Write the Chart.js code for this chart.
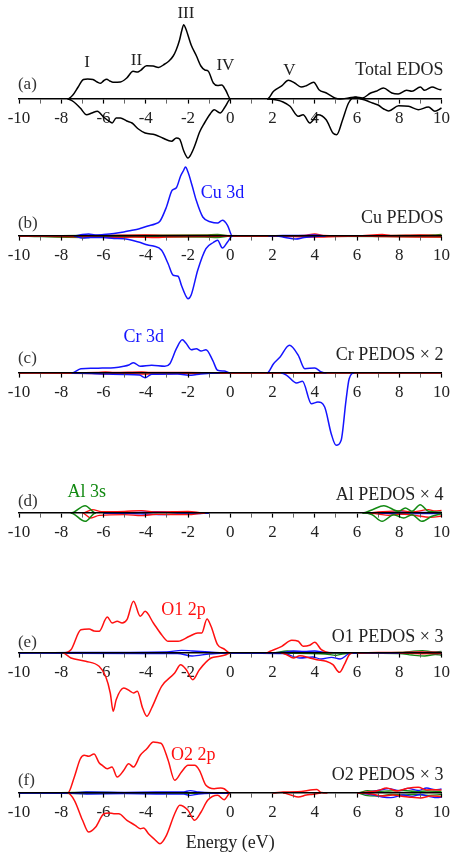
<!DOCTYPE html>
<html>
<head>
<meta charset="utf-8">
<script src="https://cdn.jsdelivr.net/npm/chart.js@4.4.1/dist/chart.umd.min.js"></script>
<style>
  html, body { margin: 0; padding: 0; background: #fff; }
  #wrap { position: relative; width: 455px; height: 857px; }
</style>
</head>
<body>
<div id="wrap"><canvas id="dos"></canvas></div>
<script>
// energies in eV, DOS in arbitrary units; pairs [E, DOS], spin down negative
const panels = ['a', 'b', 'c', 'd', 'e', 'f'];
const tickValues = [-10, -8, -6, -4, -2, 0, 2, 4, 6, 8, 10];
const minorTickValues = [-9, -7, -5, -3, -1, 1, 3, 5, 7, 9];

// (a) total
const totalUp = [[-10,0],[-7.7,0],[-7.45,0.4],[-7.2,1.2],[-6.95,1.95],[-6.75,2.0],[-6.5,1.95],[-6.3,1.7],[-6.14,1.57],[-5.98,1.85],[-5.85,1.97],[-5.7,1.8],[-5.55,1.67],[-5.2,1.7],[-4.9,2.1],[-4.6,2.77],[-4.38,2.7],[-4.25,2.85],[-3.96,3.33],[-3.65,3.3],[-3.4,3.15],[-3.1,3.5],[-2.9,3.8],[-2.7,4.3],[-2.56,4.9],[-2.4,5.9],[-2.3,6.8],[-2.2,7.43],[-2.1,7.0],[-1.85,5.4],[-1.6,4.3],[-1.39,3.3],[-1.2,2.9],[-1.05,2.8],[-0.8,1.6],[-0.6,1.35],[-0.4,1.4],[-0.22,0.9],[0.02,0],[1.75,0],[2.05,0.77],[2.45,1.33],[2.75,1.87],[3.05,1.6],[3.35,1.2],[3.6,1.33],[3.95,1.67],[4.2,0.93],[4.55,0.6],[4.95,0.1],[5.2,0],[5.6,0.1],[5.95,0.2],[6.25,0.1],[6.65,0.6],[6.9,0.77],[7.25,1.1],[7.65,0.6],[7.95,0.5],[8.35,0.87],[8.6,0.77],[9.0,1.2],[9.2,0.87],[9.55,1.2],[9.95,0.93],[10,0.95]];
const totalDown = [[-10,0],[-7.7,0],[-7.4,-0.3],[-7.1,-0.9],[-6.8,-1.57],[-6.55,-1.4],[-6.29,-1.23],[-6.0,-1.8],[-5.75,-2.2],[-5.59,-2.4],[-5.4,-1.9],[-5.2,-1.9],[-4.9,-2.2],[-4.65,-2.4],[-4.35,-3.0],[-4.03,-3.4],[-3.56,-3.57],[-3.2,-3.9],[-2.78,-4.23],[-2.55,-3.9],[-2.4,-4.0],[-2.2,-5.2],[-2.0,-5.9],[-1.85,-5.5],[-1.69,-4.73],[-1.45,-3.3],[-1.22,-2.4],[-0.95,-1.5],[-0.76,-1.07],[-0.48,-1.4],[-0.25,-0.8],[0.02,0],[1.75,0],[2.2,-0.1],[2.5,-0.3],[2.83,-0.73],[3.22,-1.73],[3.45,-1.57],[3.77,-2.4],[4.15,-1.57],[4.54,-2.07],[4.86,-3.4],[5.04,-3.57],[5.32,-2.07],[5.6,-0.4],[5.9,0.17],[6.2,0],[6.5,-0.2],[6.73,-0.4],[7.0,-0.6],[7.27,-1.0],[7.5,-1.2],[7.97,-0.67],[8.44,-0.73],[8.9,-1.07],[9.38,-0.8],[9.69,-1.23],[10,-0.9]];

// (b) Cu
const cuUp = [[-10,0],[-7.4,0],[-7.0,0.15],[-6.7,0.2],[-6.4,0.1],[-6.0,0.15],[-5.5,0.25],[-5.04,0.4],[-4.7,0.55],[-4.34,0.7],[-3.9,1.0],[-3.56,1.2],[-3.33,1.47],[-3.02,2.9],[-2.75,4.57],[-2.55,4.83],[-2.35,6.0],[-2.2,6.6],[-2.12,6.9],[-2.0,6.4],[-1.8,5.0],[-1.61,3.57],[-1.3,1.9],[-0.91,1.4],[-0.6,1.3],[-0.37,1.57],[-0.13,1.07],[0.1,0],[1.8,0],[2.5,0.05],[3.5,0.05],[4.0,0.1],[4.5,0],[10,0]];
const cuDown = [[-10,0],[-7.4,0],[-7.0,-0.2],[-6.6,-0.15],[-6.0,-0.15],[-5.5,-0.25],[-5.04,-0.27],[-4.34,-0.6],[-3.9,-0.9],[-3.64,-1.0],[-3.25,-1.43],[-2.94,-2.77],[-2.7,-3.93],[-2.47,-4.03],[-2.3,-5.0],[-2.1,-6.0],[-2.0,-6.27],[-1.85,-5.9],[-1.54,-3.43],[-1.15,-1.27],[-0.8,-0.65],[-0.6,-0.43],[-0.37,-1.2],[-0.13,-0.6],[0.1,0],[2.2,0],[2.6,-0.15],[3.1,-0.3],[3.5,-0.15],[4.0,-0.05],[4.5,0],[10,0]];
const cuRedUp = [[-10,0],[-6,0.05],[-4,0.1],[-3,0.05],[-1,0.05],[2,0],[3.5,0.05],[4.0,0.2],[4.4,0.05],[6,0],[7.2,0.15],[7.6,0.05],[9,0.1],[10,0.05]];
const cuRedDown = [[-10,0],[-6.5,-0.1],[-5.5,-0.15],[-4.5,-0.1],[-3.5,-0.15],[-3,-0.1],[-1,-0.05],[2,0],[4,-0.1],[6,0],[7.2,-0.05],[9.5,-0.1],[10,-0.1]];
const cuGreenUp = [[-10,0],[-7,0.05],[-1.2,0.1],[-0.6,0.15],[0,0],[6,0],[8,0.05],[9.6,0.1],[10,0.15]];
const cuGreenDown = [[-10,0],[-6.8,-0.15],[-6.3,-0.05],[-1.2,-0.1],[-0.6,-0.15],[0,0],[8,-0.05],[10,-0.1]];

// (c) Cr x2
const crUp = [[-10,0],[-7.5,0],[-7.07,0.43],[-6.5,0.47],[-6.06,0.5],[-5.5,0.53],[-5.04,0.67],[-4.8,0.8],[-4.58,1.03],[-4.26,0.67],[-3.72,0.77],[-3.1,0.67],[-2.86,0.93],[-2.55,2.43],[-2.27,3.33],[-2.1,3.0],[-1.85,2.33],[-1.61,2.43],[-1.38,2.2],[-1.15,2.33],[-0.83,1.27],[-0.6,0.27],[-0.29,0.2],[0,0],[1.74,0],[2.05,0.93],[2.36,1.6],[2.8,2.77],[3.22,1.77],[3.53,0.43],[4.0,0.5],[4.31,0.1],[4.55,0],[10,0]];
const crDown = [[-10,0],[-7.5,0],[-6,-0.1],[-5,-0.15],[-4.3,-0.2],[-4.03,-0.47],[-3.72,-0.13],[-2.5,-0.1],[-1.85,-0.23],[-1.4,-0.1],[-0.5,0],[2.4,0],[2.67,-0.23],[3.14,-1.0],[3.42,-0.83],[3.84,-3.07],[4.15,-2.9],[4.47,-3.4],[4.78,-6.07],[5.01,-7.23],[5.25,-6.73],[5.48,-2.73],[5.63,-0.57],[5.87,0],[10,0]];
const crRedUp = [[-10,0],[-6.3,0.05],[-5.9,0.12],[-5.5,0.05],[-4.2,0.1],[-3.8,0.05],[-2,0.05],[0,0],[10,0.02]];
const crRedDown = [[-10,0],[-6.3,-0.05],[-5.9,-0.12],[-5.5,-0.05],[-4,-0.1],[-2,-0.05],[0,0],[10,-0.02]];

// (d) Al x4
const alUp = [[-10,0],[-7.55,0],[-6.87,0.73],[-6.37,0],[6.26,0],[6.73,0.33],[7.27,0.73],[7.97,0.17],[8.29,0.5],[8.6,0.17],[8.99,0.83],[9.38,0.17],[10,0.07]];
const alDown = [[-10,0],[-7.55,0],[-6.87,-0.83],[-6.37,0],[6.26,0],[6.7,-0.15],[7.19,-0.83],[7.74,-0.17],[8.21,-0.5],[8.6,-0.17],[9.07,-0.83],[9.55,-0.33],[10,-0.07]];
const alRedUp = [[-10,0],[-7,0],[-6.52,0.33],[-6.1,0.13],[-5,0.17],[-4.19,0.23],[-3.5,0.1],[-2.0,0.17],[-1.2,0],[6.5,0],[7.0,0.1],[7.5,0.17],[8.1,0.23],[8.6,0.1],[9.38,0.33],[9.7,0.2],[10,0.25]];
const alRedDown = [[-10,0],[-7,0],[-6.6,-0.5],[-6.2,-0.23],[-5,-0.17],[-4.2,-0.27],[-3.5,-0.13],[-2.0,-0.17],[-1.2,0],[6.5,0],[7.0,-0.1],[7.5,-0.23],[8.1,-0.1],[8.6,-0.2],[9.5,-0.43],[10,-0.3]];
const alBlueUp = [[-10,0],[-6,0],[-4.5,0.07],[-3.5,0.13],[-2.5,0.07],[-1.5,0.03],[-1,0],[7,0],[8,0.1],[9,0.07],[10,0.05]];
const alBlueDown = [[-10,0],[-6,0],[-4,-0.1],[-3.2,-0.17],[-2.5,-0.1],[-1.5,-0.07],[-1,0],[7,0],[8,-0.1],[9,-0.07],[10,-0.05]];

// (e) O1 x3
const o1Up = [[-10,0],[-7.93,0],[-7.54,0.33],[-7.07,2.33],[-6.68,2.4],[-6.45,2.2],[-6.21,2.17],[-5.82,3.6],[-5.59,3.0],[-5.35,3.17],[-5.12,3.0],[-4.89,3.33],[-4.58,5.17],[-4.26,3.67],[-4.03,4.17],[-3.64,3.0],[-3.25,1.83],[-2.94,1.17],[-2.47,1.17],[-1.93,1.67],[-1.54,2.0],[-1.35,2.0],[-1.1,3.4],[-0.91,2.67],[-0.6,0.83],[-0.29,0.4],[0,0],[1.7,0],[1.89,0.17],[2.44,0.67],[2.91,1.27],[3.22,1.17],[3.45,0.67],[3.76,0.77],[4.0,1.07],[4.31,0.33],[4.54,0.1],[4.8,0],[6,0],[7,0.05],[8,0.05],[9,0.1],[10,0.05]];
const o1Down = [[-10,0],[-7.93,0],[-7.54,-0.5],[-6.84,-0.83],[-6.21,-1.33],[-5.9,-2.33],[-5.68,-4.0],[-5.54,-5.83],[-5.4,-4.67],[-5.04,-3.5],[-4.73,-3.83],[-4.58,-4.0],[-4.4,-3.83],[-4.15,-5.5],[-3.95,-6.33],[-3.72,-5.5],[-3.25,-3.33],[-2.63,-2.0],[-2.35,-1.17],[-2.08,-1.67],[-1.77,-2.67],[-1.46,-1.67],[-0.91,-0.5],[-0.5,-0.33],[-0.2,-0.17],[0,0],[2.4,0],[2.67,-0.17],[2.99,-0.5],[3.3,-0.27],[3.76,-0.5],[4.1,-0.67],[4.54,-0.83],[4.86,-1.17],[5.17,-1.93],[5.4,-1.17],[5.63,-0.17],[5.8,0],[8,0],[9,-0.07],[10,-0.05]];
const o1BlueUp = [[-10,0],[-7.5,0.05],[-5,0.07],[-3,0.1],[-2.3,0.27],[-1.8,0.2],[-1,0.1],[0,0],[2.5,0.05],[3,0.2],[3.5,0.15],[4,0.2],[4.5,0.05],[5.5,0.03],[8,0.03],[9,0.07],[10,0.05]];
const o1BlueDown = [[-10,0],[-7.5,-0.03],[-4,-0.05],[-2.5,-0.05],[-1.8,-0.3],[-1,-0.1],[0,0],[2.5,-0.05],[3.3,-0.5],[3.9,-0.4],[4.3,-0.6],[4.8,-0.43],[5.2,-0.6],[5.6,-0.1],[6,0],[8,-0.03],[10,-0.05]];
const o1GreenUp = [[-10,0],[2,0],[2.7,0.2],[3.3,0.1],[4,0.05],[6,0],[8,0.05],[8.6,0.17],[9.1,0.23],[9.6,0.12],[10,0.15]];
const o1GreenDown = [[-10,0],[2,0],[4.5,-0.1],[5,-0.25],[5.3,-0.1],[6,0],[8,-0.05],[8.6,-0.2],[9.2,-0.3],[9.7,-0.15],[10,-0.2]];

// (f) O2 x3
const o2Up = [[-10,0],[-7.69,0],[-7.38,1.6],[-7.1,3.4],[-6.91,3.77],[-6.7,3.67],[-6.45,3.9],[-6.2,3.0],[-6.06,2.77],[-5.82,2.43],[-5.6,2.6],[-5.35,1.6],[-5.04,2.27],[-4.81,2.93],[-4.58,2.6],[-4.26,3.77],[-3.95,4.43],[-3.64,5.1],[-3.35,5.0],[-3.25,4.93],[-2.94,3.27],[-2.63,1.27],[-2.31,2.1],[-2.0,2.77],[-1.69,2.77],[-1.46,2.27],[-1.15,0.77],[-0.76,0.43],[-0.45,0.5],[-0.29,0.43],[0,0],[2,0],[2.5,0.1],[3.2,0.12],[3.92,0.33],[4.1,0.35],[4.3,0.05],[4.6,0],[6,0],[6.5,0.1],[7,0.25],[7.4,0.5],[7.9,0.2],[8.4,0.47],[8.9,0.57],[9.3,0.3],[9.7,0.33],[10,0.3]];
const o2Down = [[-10,0],[-7.69,0],[-7.38,-0.73],[-6.99,-2.73],[-6.71,-3.9],[-6.37,-3.4],[-5.98,-2.07],[-5.75,-2.0],[-5.51,-2.07],[-5.28,-2.07],[-4.89,-2.73],[-4.5,-3.23],[-4.26,-3.57],[-4.1,-3.5],[-3.87,-4.07],[-3.6,-4.6],[-3.33,-5.07],[-3.02,-4.23],[-2.63,-2.07],[-2.39,-1.23],[-2.0,-1.73],[-1.69,-2.73],[-1.38,-1.9],[-1.07,-0.73],[-0.6,-0.23],[-0.29,-0.67],[0,0],[2.5,0],[2.9,-0.23],[3.22,-0.4],[3.6,-0.2],[3.92,-0.13],[4.3,0],[6,0],[6.7,-0.1],[7.2,-0.3],[7.7,-0.2],[8.2,-0.35],[8.6,-0.43],[9.0,-0.5],[9.5,-0.3],[10,-0.35]];
const o2BlueUp = [[-10,0],[-7.5,0.03],[-6.8,0.1],[-5,0.07],[-3.5,0.1],[-2.2,0.12],[-1.9,0.23],[-1.5,0.1],[0,0],[6,0],[6.5,0.07],[7.1,0.3],[7.5,0.43],[8.0,0.23],[8.4,0.47],[8.9,0.25],[9.3,0.5],[9.7,0.33],[10,0.4]];
const o2BlueDown = [[-10,0],[-7.5,-0.03],[-6.8,-0.1],[-5,-0.07],[-3.5,-0.1],[-2.2,-0.12],[-1.9,-0.23],[-1.5,-0.1],[0,0],[6,0],[6.5,-0.1],[7.2,-0.4],[7.6,-0.47],[8.2,-0.2],[8.6,-0.33],[9.0,-0.15],[9.4,-0.33],[9.8,-0.47],[10,-0.4]];
const o2GreenUp = [[-10,0],[-7.3,0.05],[-6.8,0.08],[-5,0.03],[0,0],[6,0],[6.5,0.23],[7,0.15],[7.5,0.2],[8.2,0.25],[8.8,0.15],[9.3,0.2],[10,0.15]];
const o2GreenDown = [[-10,0],[-7,-0.05],[-5,-0.03],[0,0],[6,0],[6.5,-0.27],[7.1,-0.3],[7.6,-0.15],[8.2,-0.2],[8.7,-0.15],[9.4,-0.23],[10,-0.15]];

const BLACK = '#000000', BLUE = '#1414ff', RED = '#ff1010', GREEN = '#138a13';
const SERIF = '"Liberation Serif", "DejaVu Serif", serif';

// vertical window of each panel's y axis (zero line sits where the panel's axis is)
const yRange = {
  a: [-75.8, 9.9], b: [-62.1, 23.6], c: [-48.4, 37.3],
  d: [-34.4, 51.3], e: [-20.4, 65.3], f: [-6.4, 79.3]
};

function curve(points, color, panel, width, order){
  return {
    data: points.map(p => ({ x: p[0], y: p[1] })),
    borderColor: color, borderWidth: width, pointRadius: 0, fill: false,
    cubicInterpolationMode: 'monotone', clip: false, order: order,
    xAxisID: 'x' + panel, yAxisID: 'y' + panel,
    // flat zero stretches lie under the axis line, so leave them undrawn
    segment: {
      borderColor: c => (c.p0.parsed.y === 0 && c.p1.parsed.y === 0) ? 'rgba(0,0,0,0)' : undefined
    }
  };
}

const datasets = [
  curve(totalUp, BLACK, 'a', 1.5, 0), curve(totalDown, BLACK, 'a', 1.5, 0),
  curve(cuUp, BLUE, 'b', 1.5, 0), curve(cuDown, BLUE, 'b', 1.5, 0),
  curve(cuRedUp, RED, 'b', 1.3, 1), curve(cuRedDown, RED, 'b', 1.3, 1),
  curve(cuGreenUp, GREEN, 'b', 1.3, 1), curve(cuGreenDown, GREEN, 'b', 1.3, 1),
  curve(crUp, BLUE, 'c', 1.5, 0), curve(crDown, BLUE, 'c', 1.5, 0),
  curve(crRedUp, RED, 'c', 1.3, 1), curve(crRedDown, RED, 'c', 1.3, 1),
  curve(alUp, GREEN, 'd', 1.5, 0), curve(alDown, GREEN, 'd', 1.5, 0),
  curve(alRedUp, RED, 'd', 1.3, 1), curve(alRedDown, RED, 'd', 1.3, 1),
  curve(alBlueUp, BLUE, 'd', 1.3, 1), curve(alBlueDown, BLUE, 'd', 1.3, 1),
  curve(o1Up, RED, 'e', 1.5, 0), curve(o1Down, RED, 'e', 1.5, 0),
  curve(o1BlueUp, BLUE, 'e', 1.3, 1), curve(o1BlueDown, BLUE, 'e', 1.3, 1),
  curve(o1GreenUp, GREEN, 'e', 1.3, 1), curve(o1GreenDown, GREEN, 'e', 1.3, 1),
  curve(o2Up, RED, 'f', 1.5, 0), curve(o2Down, RED, 'f', 1.5, 0),
  curve(o2BlueUp, BLUE, 'f', 1.3, 1), curve(o2BlueDown, BLUE, 'f', 1.3, 1),
  curve(o2GreenUp, GREEN, 'f', 1.3, 1), curve(o2GreenDown, GREEN, 'f', 1.3, 1)
];

// text placed in data coordinates of each panel
const notes = [
  { p: 'a', x: -10.05, y: 1.0, text: '(a)', color: '#333', align: 'left', size: 17 },
  { p: 'a', x: -6.78, y: 3.2, text: 'I', color: '#222', align: 'center', size: 17 },
  { p: 'a', x: -4.44, y: 3.4, text: 'II', color: '#222', align: 'center', size: 17 },
  { p: 'a', x: -2.1, y: 8.1, text: 'III', color: '#222', align: 'center', size: 17 },
  { p: 'a', x: -0.23, y: 2.9, text: 'IV', color: '#222', align: 'center', size: 17 },
  { p: 'a', x: 2.8, y: 2.4, text: 'V', color: '#222', align: 'center', size: 17 },
  { p: 'a', x: 10.09, y: 2.4, text: 'Total EDOS', color: '#222', align: 'right', size: 18 },
  { p: 'b', x: -10.05, y: 0.8, text: '(b)', color: '#333', align: 'left', size: 17 },
  { p: 'b', x: -1.4, y: 3.8, text: 'Cu 3d', color: BLUE, align: 'left', size: 18 },
  { p: 'b', x: 10.09, y: 1.3, text: 'Cu PEDOS', color: '#222', align: 'right', size: 18 },
  { p: 'c', x: -10.05, y: 1.0, text: '(c)', color: '#333', align: 'left', size: 17 },
  { p: 'c', x: -5.05, y: 3.1, text: 'Cr 3d', color: BLUE, align: 'left', size: 18 },
  { p: 'c', x: 10.09, y: 1.3, text: 'Cr PEDOS × 2', color: '#222', align: 'right', size: 18 },
  { p: 'd', x: -10.05, y: 0.7, text: '(d)', color: '#333', align: 'left', size: 17 },
  { p: 'd', x: -7.71, y: 1.6, text: 'Al 3s', color: GREEN, align: 'left', size: 18 },
  { p: 'd', x: 10.09, y: 1.3, text: 'Al PEDOS × 4', color: '#222', align: 'right', size: 18 },
  { p: 'e', x: -10.05, y: 0.6, text: '(e)', color: '#333', align: 'left', size: 17 },
  { p: 'e', x: -3.27, y: 3.8, text: 'O1 2p', color: RED, align: 'left', size: 18 },
  { p: 'e', x: 10.09, y: 1.1, text: 'O1 PEDOS × 3', color: '#222', align: 'right', size: 18 },
  { p: 'f', x: -10.05, y: 0.8, text: '(f)', color: '#333', align: 'left', size: 17 },
  { p: 'f', x: -2.8, y: 3.3, text: 'O2 2p', color: RED, align: 'left', size: 18 },
  { p: 'f', x: 10.09, y: 1.3, text: 'O2 PEDOS × 3', color: '#222', align: 'right', size: 18 },
  { p: 'f', x: 0, y: -5.5, text: 'Energy (eV)', color: '#222', align: 'center', size: 18 }
];

const notesPlugin = {
  id: 'notes',
  afterDatasetsDraw(chart){
    const ctx = chart.ctx;
    ctx.save();
    ctx.textBaseline = 'alphabetic';
    for(const n of notes){
      const xs = chart.scales['x' + n.p], ys = chart.scales['y' + n.p];
      ctx.font = n.size + 'px ' + SERIF;
      ctx.fillStyle = n.color;
      ctx.textAlign = n.align;
      ctx.fillText(n.text, xs.getPixelForValue(n.x), ys.getPixelForValue(n.y));
    }
    ctx.restore();
  }
};

const allTicks = tickValues.concat(minorTickValues).sort((a, b) => a - b);
const scales = {};
for(const p of panels){
  scales['y' + p] = { type: 'linear', display: false, min: yRange[p][0], max: yRange[p][1] };
  scales['x' + p] = {
    type: 'linear', min: -10, max: 10,
    position: { ['y' + p]: 0 },
    afterFit: s => { s.height = 0; },
    afterBuildTicks: s => { s.ticks = allTicks.map(v => ({ value: v })); },
    grid: {
      z: 1, drawOnChartArea: false, drawTicks: true, tickLength: 4,
      tickColor: c => tickValues.includes(c.tick && c.tick.value) ? '#000' : '#555',
      tickWidth: c => tickValues.includes(c.tick && c.tick.value) ? 1.2 : 0.9
    },
    border: { z: 1, display: true, color: '#000', width: 1.6 },
    ticks: {
      autoSkip: false, maxRotation: 0, padding: 5, color: '#222',
      font: { family: SERIF, size: 17 },
      callback: v => tickValues.includes(v) ? String(v) : ''
    }
  };
}

new Chart(document.getElementById('dos'), {
  type: 'line',
  data: { datasets },
  options: {
    responsive: true, maintainAspectRatio: false, animation: false,
    layout: { padding: { left: 19, right: 8, top: 0, bottom: 0 } },
    plugins: { legend: { display: false }, tooltip: { enabled: false } },
    scales
  },
  plugins: [notesPlugin]
});
</script>
</body>
</html>
